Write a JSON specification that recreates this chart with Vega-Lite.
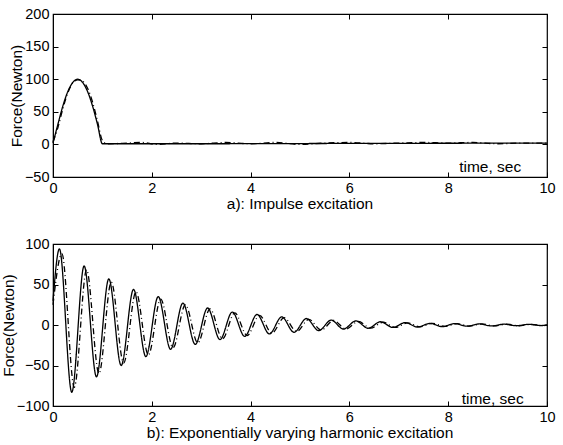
{
  "$schema": "https://vega.github.io/schema/vega-lite/v6.json",
  "padding": {"left": 0, "top": 5, "right": 14, "bottom": 2},
  "background": "white",
  "spacing": 22,
  "config": {
    "font": "Liberation Sans",
    "view": {"stroke": "black", "strokeWidth": 1.2},
    "axis": {"grid": false, "domainColor": "black", "tickColor": "black", "labelColor": "black", "titleColor": "black", "labelFontSize": 14.5, "titleFontSize": 15.5, "titleFontWeight": "normal", "labelFont": "Liberation Sans", "titleFont": "Liberation Sans", "tickSize": -5, "labelPadding": 9, "labelOverlap": false, "labelBound": false, "labelFlush": false},
    "title": {"font": "Liberation Sans", "fontSize": 15.5, "fontWeight": "normal", "color": "black"}
  },
  "datasets": {
    "impulse": [
      {"series": "solid", "t": 0, "f": 2},
      {"series": "solid", "t": 0.1, "f": 31},
      {"series": "solid", "t": 0.2, "f": 59},
      {"series": "solid", "t": 0.3, "f": 81},
      {"series": "solid", "t": 0.4, "f": 95},
      {"series": "solid", "t": 0.5, "f": 100},
      {"series": "solid", "t": 0.6, "f": 95},
      {"series": "solid", "t": 0.7, "f": 81},
      {"series": "solid", "t": 0.8, "f": 59},
      {"series": "solid", "t": 0.9, "f": 31},
      {"series": "solid", "t": 1.0, "f": 1},
      {"series": "solid", "t": 3, "f": 1},
      {"series": "solid", "t": 6, "f": 1.5},
      {"series": "solid", "t": 10, "f": 2},
      {"series": "dashdot", "t": 0, "f": 4},
      {"series": "dashdot", "t": 0.1, "f": 26},
      {"series": "dashdot", "t": 0.2, "f": 55},
      {"series": "dashdot", "t": 0.3, "f": 79},
      {"series": "dashdot", "t": 0.4, "f": 94},
      {"series": "dashdot", "t": 0.5, "f": 99},
      {"series": "dashdot", "t": 0.6, "f": 97},
      {"series": "dashdot", "t": 0.7, "f": 86},
      {"series": "dashdot", "t": 0.8, "f": 65},
      {"series": "dashdot", "t": 0.9, "f": 36},
      {"series": "dashdot", "t": 1.0, "f": 6},
      {"series": "dashdot", "t": 1.1, "f": 1},
      {"series": "dashdot", "t": 1.5, "f": 2},
      {"series": "dashdot", "t": 1.8, "f": 3},
      {"series": "dashdot", "t": 2.1, "f": 0},
      {"series": "dashdot", "t": 2.5, "f": 2},
      {"series": "dashdot", "t": 3.0, "f": 1},
      {"series": "dashdot", "t": 3.5, "f": 3},
      {"series": "dashdot", "t": 4.0, "f": 1},
      {"series": "dashdot", "t": 4.5, "f": 3},
      {"series": "dashdot", "t": 5.0, "f": 0},
      {"series": "dashdot", "t": 5.5, "f": 2},
      {"series": "dashdot", "t": 6.0, "f": 3},
      {"series": "dashdot", "t": 6.5, "f": 1},
      {"series": "dashdot", "t": 7.0, "f": 2},
      {"series": "dashdot", "t": 7.5, "f": 3},
      {"series": "dashdot", "t": 8.0, "f": 2},
      {"series": "dashdot", "t": 8.5, "f": 3},
      {"series": "dashdot", "t": 9.0, "f": 1},
      {"series": "dashdot", "t": 9.5, "f": 2},
      {"series": "dashdot", "t": 10, "f": 2}
    ],
    "harmonic": [
      {"series": "solid", "t": 0, "f": 30},
      {"series": "solid", "t": 0.13, "f": 94},
      {"series": "solid", "t": 0.38, "f": -83},
      {"series": "solid", "t": 0.63, "f": 73},
      {"series": "solid", "t": 0.88, "f": -64},
      {"series": "solid", "t": 1.13, "f": 57},
      {"series": "solid", "t": 1.38, "f": -50},
      {"series": "solid", "t": 1.63, "f": 44},
      {"series": "solid", "t": 1.88, "f": -39},
      {"series": "solid", "t": 2.13, "f": 35},
      {"series": "solid", "t": 2.38, "f": -30},
      {"series": "solid", "t": 2.63, "f": 27},
      {"series": "solid", "t": 2.88, "f": -24},
      {"series": "solid", "t": 3.13, "f": 21},
      {"series": "solid", "t": 3.38, "f": -18},
      {"series": "solid", "t": 3.63, "f": 16},
      {"series": "solid", "t": 3.88, "f": -14},
      {"series": "solid", "t": 4.13, "f": 13},
      {"series": "solid", "t": 4.38, "f": -11},
      {"series": "solid", "t": 4.63, "f": 10},
      {"series": "solid", "t": 4.88, "f": -9},
      {"series": "solid", "t": 5.13, "f": 8},
      {"series": "solid", "t": 5.38, "f": -7},
      {"series": "solid", "t": 5.63, "f": 6},
      {"series": "solid", "t": 5.88, "f": -5},
      {"series": "solid", "t": 6.13, "f": 5},
      {"series": "solid", "t": 6.38, "f": -4},
      {"series": "solid", "t": 6.63, "f": 4},
      {"series": "solid", "t": 6.88, "f": -3},
      {"series": "solid", "t": 7.13, "f": 3},
      {"series": "solid", "t": 7.38, "f": -2.5},
      {"series": "solid", "t": 7.63, "f": 2},
      {"series": "solid", "t": 7.88, "f": -2},
      {"series": "solid", "t": 8.13, "f": 1.7},
      {"series": "solid", "t": 8.38, "f": -1.5},
      {"series": "solid", "t": 8.63, "f": 1.3},
      {"series": "solid", "t": 8.88, "f": -1.2},
      {"series": "solid", "t": 9.13, "f": 1},
      {"series": "solid", "t": 9.38, "f": -0.9},
      {"series": "solid", "t": 9.63, "f": 0.8},
      {"series": "solid", "t": 9.88, "f": -0.7},
      {"series": "solid", "t": 10, "f": 0},
      {"series": "dashdot", "t": 0, "f": 25},
      {"series": "dashdot", "t": 0.18, "f": 88},
      {"series": "dashdot", "t": 0.43, "f": -77},
      {"series": "dashdot", "t": 0.68, "f": 68},
      {"series": "dashdot", "t": 0.93, "f": -60},
      {"series": "dashdot", "t": 1.18, "f": 53},
      {"series": "dashdot", "t": 1.43, "f": -47},
      {"series": "dashdot", "t": 1.68, "f": 41},
      {"series": "dashdot", "t": 1.93, "f": -37},
      {"series": "dashdot", "t": 2.18, "f": 32},
      {"series": "dashdot", "t": 2.43, "f": -28},
      {"series": "dashdot", "t": 2.68, "f": 25},
      {"series": "dashdot", "t": 2.93, "f": -22},
      {"series": "dashdot", "t": 3.18, "f": 20},
      {"series": "dashdot", "t": 3.43, "f": -17},
      {"series": "dashdot", "t": 3.68, "f": 15},
      {"series": "dashdot", "t": 3.93, "f": -13},
      {"series": "dashdot", "t": 4.18, "f": 12},
      {"series": "dashdot", "t": 4.43, "f": -10},
      {"series": "dashdot", "t": 4.68, "f": 9},
      {"series": "dashdot", "t": 4.93, "f": -8},
      {"series": "dashdot", "t": 5.18, "f": 7},
      {"series": "dashdot", "t": 5.43, "f": -6.3},
      {"series": "dashdot", "t": 5.68, "f": 5.6},
      {"series": "dashdot", "t": 5.93, "f": -5},
      {"series": "dashdot", "t": 6.18, "f": 4.4},
      {"series": "dashdot", "t": 6.43, "f": -3.9},
      {"series": "dashdot", "t": 6.68, "f": 3.4},
      {"series": "dashdot", "t": 6.93, "f": -3},
      {"series": "dashdot", "t": 7.18, "f": 2.7},
      {"series": "dashdot", "t": 7.43, "f": -2.3},
      {"series": "dashdot", "t": 7.68, "f": 2.1},
      {"series": "dashdot", "t": 7.93, "f": -1.8},
      {"series": "dashdot", "t": 8.18, "f": 1.6},
      {"series": "dashdot", "t": 8.43, "f": -1.4},
      {"series": "dashdot", "t": 8.68, "f": 1.3},
      {"series": "dashdot", "t": 8.93, "f": -1.1},
      {"series": "dashdot", "t": 9.18, "f": 1},
      {"series": "dashdot", "t": 9.43, "f": -0.9},
      {"series": "dashdot", "t": 9.68, "f": 0.8},
      {"series": "dashdot", "t": 9.93, "f": -0.7},
      {"series": "dashdot", "t": 10, "f": 0}
    ],
    "labelsA": [{"t": 8.85, "f": -34, "text": "time, sec"}],
    "labelsB": [{"t": 8.9, "f": -91, "text": "time, sec"}]
  },
  "vconcat": [
    {
      "width": 494,
      "height": 163,
      "title": {"text": "a): Impulse excitation", "orient": "bottom", "offset": 2},
      "resolve": {"axis": {"x": "independent", "y": "independent"}},
      "layer": [
        {
          "data": {"name": "impulse"},
          "mark": {"type": "line", "interpolate": "monotone", "color": "black", "strokeWidth": 1.3},
          "encoding": {
            "x": {"field": "t", "type": "quantitative", "scale": {"domain": [0, 10], "nice": false}, "axis": {"orient": "bottom", "values": [0, 2, 4, 6, 8, 10], "title": null}},
            "y": {"field": "f", "type": "quantitative", "scale": {"domain": [-50, 200], "nice": false}, "axis": {"orient": "left", "values": [-50, 0, 50, 100, 150, 200], "title": "Force(Newton)", "titlePadding": 0}},
            "strokeDash": {"field": "series", "type": "nominal", "scale": {"domain": ["solid", "dashdot"], "range": [[1, 0], [6, 3, 1, 3]]}, "legend": null}
          }
        },
        {
          "data": {"name": "labelsA"},
          "mark": {"type": "text", "fontSize": 15.5, "font": "Liberation Sans", "color": "black"},
          "encoding": {
            "x": {"field": "t", "type": "quantitative", "axis": {"orient": "top", "values": [0, 2, 4, 6, 8, 10], "labels": false, "title": null, "domain": false}},
            "y": {"field": "f", "type": "quantitative", "axis": {"orient": "right", "values": [-50, 0, 50, 100, 150, 200], "labels": false, "title": null, "domain": false}},
            "text": {"field": "text"}
          }
        }
      ]
    },
    {
      "width": 494,
      "height": 162,
      "title": {"text": "b): Exponentially varying harmonic excitation", "orient": "bottom", "offset": 2},
      "resolve": {"axis": {"x": "independent", "y": "independent"}},
      "layer": [
        {
          "data": {"name": "harmonic"},
          "mark": {"type": "line", "interpolate": "monotone", "color": "black", "strokeWidth": 1.3},
          "encoding": {
            "x": {"field": "t", "type": "quantitative", "scale": {"domain": [0, 10], "nice": false}, "axis": {"orient": "bottom", "values": [0, 2, 4, 6, 8, 10], "title": null}},
            "y": {"field": "f", "type": "quantitative", "scale": {"domain": [-100, 100], "nice": false}, "axis": {"orient": "left", "values": [-100, -50, 0, 50, 100], "title": "Force(Newton)", "titlePadding": 0}},
            "strokeDash": {"field": "series", "type": "nominal", "scale": {"domain": ["solid", "dashdot"], "range": [[1, 0], [6, 3, 1, 3]]}, "legend": null}
          }
        },
        {
          "data": {"name": "labelsB"},
          "mark": {"type": "text", "fontSize": 15.5, "font": "Liberation Sans", "color": "black"},
          "encoding": {
            "x": {"field": "t", "type": "quantitative", "axis": {"orient": "top", "values": [0, 2, 4, 6, 8, 10], "labels": false, "title": null, "domain": false}},
            "y": {"field": "f", "type": "quantitative", "axis": {"orient": "right", "values": [-100, -50, 0, 50, 100], "labels": false, "title": null, "domain": false}},
            "text": {"field": "text"}
          }
        }
      ]
    }
  ]
}
